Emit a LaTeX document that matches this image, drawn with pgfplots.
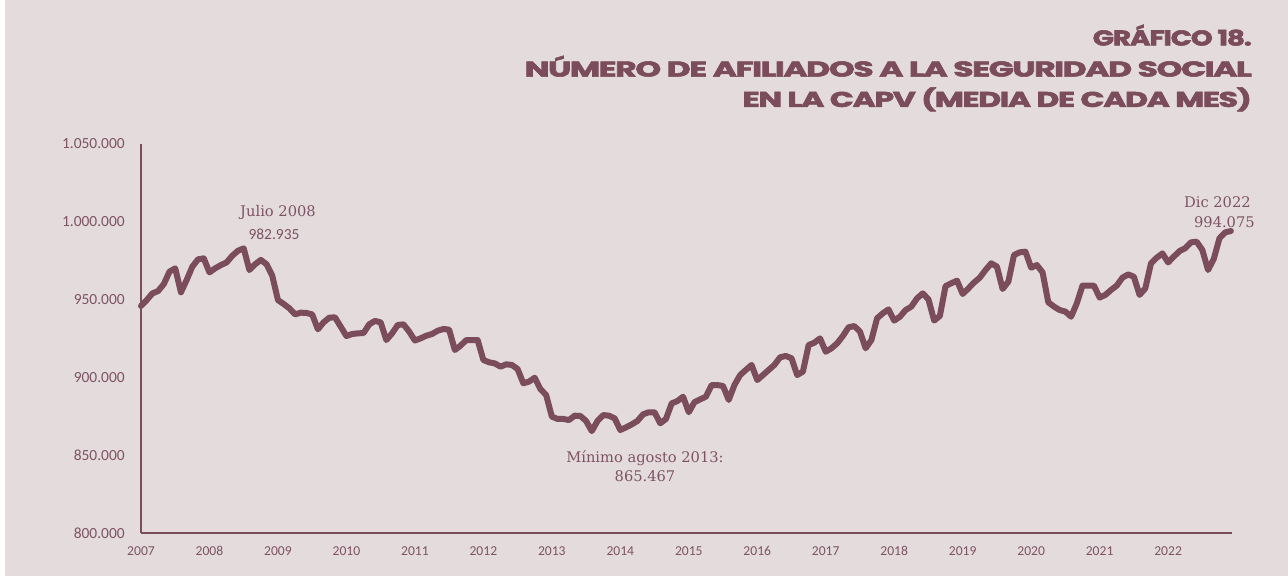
\documentclass[border=0pt]{standalone}
\usepackage{pgfplots}
\pgfplotsset{compat=1.18}
\usepackage{pgfplotstable}
\usepackage{fontspec}
\usepackage{graphicx}
\newfontfamily\tickfont{Carlito}
\newfontfamily\annfont{DejaVu Serif}
\newfontfamily\titlefont{Poppins}[FakeBold=2.5, LetterSpace=-4]
\definecolor{bg}{HTML}{E3DBDC}
\definecolor{maroon}{HTML}{7B4C5B}
\definecolor{txt}{HTML}{7E5365}

\pgfplotstableread{
i v
0 945900
1 949700
2 954000
3 955500
4 960000
5 968000
6 970100
7 954700
8 962600
9 971200
10 975900
11 976500
12 967500
13 970100
14 972200
15 973900
16 978200
17 981400
18 982935
19 969000
20 972700
21 975500
22 972700
23 965400
24 949700
25 947200
26 944400
27 940500
28 941600
29 941400
30 940500
31 930900
32 935400
33 938400
34 938600
35 932600
36 926600
37 927900
38 928300
39 928500
40 934100
41 936300
42 935400
43 924000
44 928300
45 933700
46 934100
47 929400
48 923700
49 925100
50 926800
51 927900
52 930000
53 931100
54 930700
55 917600
56 920400
57 924000
58 924000
59 924000
60 911200
61 909700
62 909000
63 906900
64 908400
65 908000
66 905400
67 896200
68 897300
69 899800
70 892500
71 888700
72 874800
73 873300
74 873300
75 872600
76 875400
77 875200
78 872000
79 865467
80 872000
81 875800
82 875400
83 873700
84 866200
85 867900
86 869800
87 872000
88 876300
89 877600
90 877600
91 870500
92 873300
93 883300
94 884800
95 887600
96 877600
97 884100
98 885900
99 887600
100 895100
101 895100
102 894500
103 885500
104 895100
105 901500
106 904800
107 908000
108 898300
109 901500
110 904800
111 908000
112 912900
113 913800
114 912300
115 901500
116 903700
117 920800
118 922300
119 925100
120 916500
121 918700
122 921900
123 926600
124 932200
125 933000
126 929400
127 918700
128 924000
129 938000
130 941200
131 943700
132 936500
133 939000
134 943300
135 945500
136 950800
137 954000
138 950200
139 936500
140 939500
141 958700
142 960500
143 962200
144 953600
145 957200
146 961000
147 964100
148 969000
149 973300
150 971200
151 956800
152 961500
153 978700
154 980400
155 980800
156 970500
157 972200
158 967500
159 948300
160 945500
161 943300
162 942300
163 939000
164 947600
165 959000
166 959000
167 959000
168 951300
169 953000
170 956200
171 959000
172 964100
173 966200
174 964700
175 953000
176 957200
177 973300
178 976900
179 979700
180 973900
181 977600
182 981200
183 983000
184 986800
185 987200
186 981900
187 969000
188 976100
189 989400
190 993200
191 994075
}\data

\begin{document}
\begin{tikzpicture}
\path[use as bounding box] (0,0) rectangle (966pt,-432.75pt);
\fill[white] (0,0) rectangle (966pt,-432.75pt);
\fill[bg] (3.75pt,0) rectangle (966pt,-432pt);
\begin{axis}[
  at={(105.75pt,-399.75pt)}, anchor=south west,
  scale only axis, width=818.25pt, height=291.75pt,
  xmin=0, xmax=191.2, ymin=800000, ymax=1050000,
  scaled y ticks=false, scaled x ticks=false,
  axis lines=left,
  axis line style={-, draw=maroon, line width=1pt},
  xtick={0,12,24,36,48,60,72,84,96,108,120,132,144,156,168,180},
  xticklabels={2007,2008,2009,2010,2011,2012,2013,2014,2015,2016,2017,2018,2019,2020,2021,2022},
  ytick={800000,850000,900000,950000,1000000,1050000},
  yticklabels={800.000,850.000,900.000,950.000,1.000.000,1.050.000},
  major tick length=0pt,
  xticklabel style={font=\tickfont\fontsize{10.2}{12}\selectfont, text=txt, anchor=north, inner sep=0pt, yshift=-9.75pt},
  yticklabel style={font=\tickfont\fontsize{11.6}{14}\selectfont, text=txt, anchor=east, inner sep=0pt, xshift=-12pt},
  clip=false,
]
\addplot[maroon, line width=4.5pt, line join=round, line cap=round] table[x=i,y=v]{\data};
\end{axis}
% titles
\node[anchor=base east, text=maroon, inner sep=0pt] at (939pt,-34.1pt) {\resizebox{119.25pt}{\height}{\titlefont\bfseries\fontsize{16}{16}\selectfont GRÁFICO 18.}};
\node[anchor=base east, text=maroon, inner sep=0pt] at (939pt,-57.4pt) {\resizebox{545.25pt}{\height}{\titlefont\bfseries\fontsize{16}{16}\selectfont NÚMERO DE AFILIADOS A LA SEGURIDAD SOCIAL}};
\node[anchor=base east, text=maroon, inner sep=0pt] at (939pt,-80.2pt) {\resizebox{381.75pt}{\height}{\titlefont\bfseries\fontsize{16}{16}\selectfont EN LA CAPV (MEDIA DE CADA MES)}};
% annotations
\node[text=txt, inner sep=0pt] at (208.5pt,-159pt) {\annfont\fontsize{11}{13}\selectfont Julio 2008};
\node[text=txt, inner sep=0pt] at (205.5pt,-175.5pt) {\tickfont\fontsize{11.6}{13}\selectfont 982.935};
\node[text=txt, inner sep=0pt, anchor=east] at (938.25pt,-151.5pt) {\annfont\fontsize{11}{13}\selectfont Dic 2022};
\node[text=txt, inner sep=0pt, anchor=east] at (941.25pt,-166.5pt) {\annfont\fontsize{11}{13}\selectfont 994.075};
\node[text=txt, inner sep=0pt] at (483.75pt,-343.5pt) {\annfont\fontsize{11}{13}\selectfont Mínimo agosto 2013:};
\node[text=txt, inner sep=0pt] at (483.75pt,-357pt) {\annfont\fontsize{11}{13}\selectfont 865.467};
\end{tikzpicture}
\end{document}
